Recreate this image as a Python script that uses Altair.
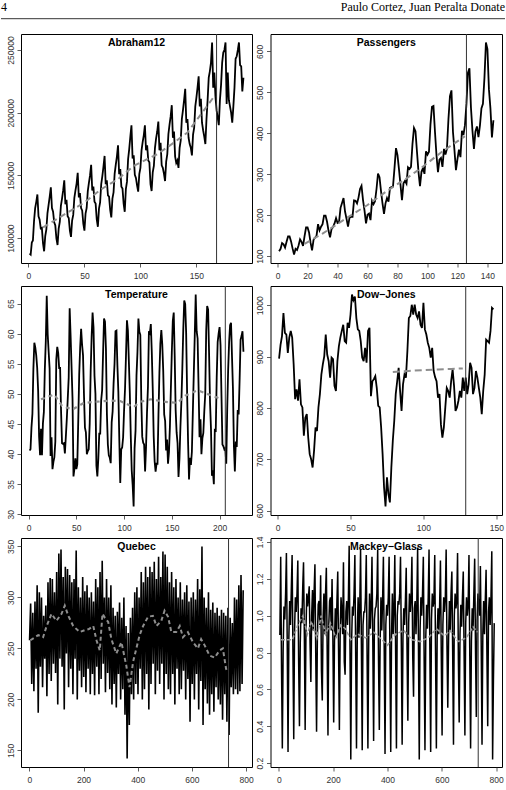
import altair as alt
import pandas as pd

FONT = "Liberation Sans"

# ---------------- Abraham12 (monthly, 192 values) ----------------
abraham = [
    87700, 86900, 96400, 98100, 113600, 123900, 128900, 134800, 117400, 114600, 107700, 108100,
    96000, 89500, 101500, 107000, 120000, 126500, 133000, 140500, 124000, 121000, 112500, 110000,
    99500, 94500, 107500, 113000, 126000, 131500, 138000, 146000, 127000, 130500, 117500, 116000,
    106000, 101000, 114000, 118500, 132000, 138000, 143500, 152000, 132500, 136000, 124000, 122000,
    111500, 106000, 119500, 124000, 137500, 144000, 150000, 158500, 138000, 141000, 129000, 127500,
    115000, 109000, 123500, 128500, 143000, 149500, 157000, 165500, 143000, 146000, 134000, 133000,
    122500, 116500, 131500, 136500, 151500, 158500, 165000, 174000, 151000, 155000, 141000, 139500,
    127500, 121000, 139000, 145000, 163000, 171000, 181000, 190000, 163500, 166000, 150500, 148000,
    142000, 137000, 151000, 156000, 170000, 176500, 182000, 190000, 170000, 174000, 162000, 160500,
    143000, 137500, 152500, 157500, 172000, 179500, 185000, 193000, 170000, 176000, 158000, 156000,
    151500, 145500, 161000, 167000, 183000, 190500, 197000, 206000, 180000, 185000, 165000, 160000,
    162000, 156000, 172000, 178000, 195000, 202000, 210000, 219000, 192000, 195000, 180000, 175000,
    172000, 166000, 182500, 188000, 205000, 212000, 220000, 229000, 205000, 211000, 192000, 186000,
    181000, 175000, 195000, 210000, 228000, 233000, 240000, 256000, 220000, 232000, 213000, 202000,
    196000, 190000, 210000, 222000, 240000, 248000, 250000, 256000, 207000, 232000, 210000, 205000,
    200000, 192000, 205000, 220000, 243000, 245000, 250000, 256000, 238000, 237000, 217000, 228000,
]
abraham_fx = [13, 35, 50, 65, 80, 94, 115, 130, 142, 153, 165]
abraham_fy = [108500, 120400, 128400, 139000, 147000, 157600, 166900, 176200, 184200, 197400, 212000]

# ---------------- Passengers (monthly, 144 values) ----------------
passengers = [
    112, 118, 132, 129, 121, 135, 148, 148, 136, 119, 104, 118,
    115, 126, 141, 135, 125, 149, 170, 170, 158, 133, 114, 140,
    145, 150, 178, 163, 172, 178, 199, 199, 184, 162, 146, 166,
    171, 180, 193, 181, 183, 218, 230, 242, 209, 191, 172, 194,
    196, 196, 236, 235, 229, 243, 264, 272, 237, 211, 180, 201,
    204, 188, 235, 227, 234, 264, 302, 293, 259, 229, 203, 229,
    242, 233, 267, 269, 270, 315, 364, 347, 312, 274, 237, 278,
    284, 277, 317, 313, 318, 374, 413, 405, 355, 306, 271, 306,
    315, 301, 356, 348, 355, 422, 465, 467, 404, 347, 305, 336,
    340, 318, 362, 348, 363, 435, 491, 505, 404, 359, 310, 337,
    360, 342, 406, 396, 420, 472, 548, 559, 463, 407, 362, 405,
    417, 391, 419, 461, 472, 535, 622, 606, 508, 461, 390, 432,
]
pass_fx = [18, 30, 46, 60, 74, 86, 96, 110, 125]
pass_fy = [130, 155, 193, 225, 262, 290, 316, 356, 393]

# ---------------- Temperature (monthly, 225 values) ----------------
temperature = [
    40.6, 40.8, 44.4, 46.7, 54.1, 58.5, 57.7, 56.4, 54.3, 50.5, 42.9, 39.8,
    44.2, 39.8, 45.1, 47.0, 54.1, 58.7, 66.3, 59.9, 57.0, 54.2, 39.7, 42.8,
    37.5, 38.7, 39.5, 42.1, 55.7, 57.8, 56.8, 54.3, 54.3, 47.1, 41.8, 41.7,
    41.8, 40.1, 42.9, 45.8, 49.2, 52.7, 64.2, 59.6, 54.4, 49.2, 36.3, 37.6,
    39.3, 37.5, 38.3, 45.5, 53.2, 57.7, 60.8, 58.2, 56.4, 49.8, 44.4, 43.6,
    40.0, 40.5, 40.8, 45.1, 53.8, 59.4, 63.5, 61.0, 53.0, 50.0, 38.1, 36.3,
    39.2, 43.4, 43.4, 48.9, 50.6, 56.8, 62.5, 62.0, 57.5, 46.7, 41.6, 39.8,
    39.4, 38.5, 45.3, 47.1, 51.7, 55.0, 60.4, 60.5, 54.7, 50.3, 42.3, 35.2,
    40.8, 41.1, 42.8, 47.3, 50.9, 56.4, 62.2, 60.5, 55.4, 50.2, 43.0, 37.3,
    34.8, 31.3, 41.0, 43.9, 53.1, 56.9, 62.5, 60.3, 59.8, 49.2, 42.9, 41.9,
    41.6, 37.1, 41.2, 46.9, 51.2, 60.4, 60.1, 61.6, 57.0, 50.9, 43.0, 38.8,
    37.1, 38.4, 38.4, 46.5, 53.5, 58.4, 60.6, 58.2, 53.8, 46.6, 45.5, 40.6,
    42.4, 38.4, 40.3, 44.6, 50.9, 57.0, 62.1, 63.5, 56.3, 47.3, 43.6, 41.8,
    36.2, 39.3, 44.5, 48.7, 54.2, 60.8, 65.5, 64.9, 60.1, 50.2, 42.1, 35.8,
    39.4, 38.2, 40.4, 46.9, 53.4, 59.6, 66.5, 60.4, 59.2, 51.2, 42.8, 45.8,
    40.0, 42.6, 43.5, 47.1, 50.0, 60.5, 64.6, 64.0, 56.8, 48.6, 44.2, 36.4,
    37.3, 35.0, 44.0, 43.9, 52.7, 58.6, 60.0, 61.1, 58.1, 49.6, 41.6, 41.3,
    40.8, 41.0, 38.4, 47.4, 54.1, 58.6, 61.4, 61.8, 56.3, 50.9, 41.4, 37.1,
    42.1, 41.2, 47.3, 46.6, 52.4, 59.0, 59.6, 60.4, 57.0,
]
temp_fx = [13, 27, 35, 46, 58, 72, 86, 96, 110, 117, 128, 142, 156, 164, 177, 187, 199]
temp_fy = [49.1, 49.9, 48.0, 47.4, 48.5, 48.7, 48.9, 48.8, 47.8, 48.7, 49.1, 48.7, 48.5, 49.7, 50.6, 50.0, 49.3]

# ---------------- Dow-Jones (148 values) ----------------
dowjones = [
    896, 923, 940, 985, 946, 943, 907, 937, 950, 937,
    885, 817, 836, 814, 856, 807, 801, 746, 781, 788,
    742, 710, 700, 684, 717, 762, 755, 801, 827, 865,
    885, 901, 943, 904, 891, 859, 898, 895, 843, 833,
    891, 920, 937, 950, 962, 930, 927, 966, 956, 982,
    1021, 1010, 1017, 975, 953, 950, 930, 898, 891, 917,
    888, 950, 956, 823, 852, 856, 862, 839, 804, 801,
    762, 710, 645, 608, 665, 632, 616, 684, 736, 775,
    827, 852, 878, 833, 794, 846, 865, 859, 911, 975,
    979, 1001, 982, 1001, 982, 975, 988, 962, 956, 1005,
    953, 943, 927, 917, 898, 917, 872, 860, 852, 820,
    827, 768, 742, 762, 801, 839, 833, 820, 852, 875,
    843, 794, 801, 814, 833, 820, 859, 833, 859, 827,
    846, 888, 878, 827, 839, 872, 859, 839, 820, 788,
    833, 865, 933, 930, 927, 950, 995, 992,
]
dj_fx = [79, 90, 101, 110, 119, 127]
dj_fy = [870, 872, 874, 875, 876, 877]

# ---------------- Quebec (every 4th day) ----------------
quebec = [
    258, 294, 215, 285, 208, 296, 230, 312, 187, 305,
    232, 300, 212, 282, 240, 292, 203, 315, 225, 319,
    218, 318, 235, 305, 226, 325, 195, 343, 240, 347,
    232, 320, 190, 330, 245, 328, 212, 322, 230, 315,
    205, 318, 240, 346, 200, 310, 228, 300, 212, 320,
    222, 306, 207, 312, 230, 300, 205, 305, 225, 296,
    204, 318, 232, 310, 205, 325, 220, 336, 235, 300,
    207, 318, 226, 300, 210, 312, 195, 290, 215, 282,
    192, 286, 225, 295, 200, 280, 210, 300, 185, 272,
    142, 265, 175, 280, 205, 290, 200, 305, 215, 310,
    205, 300, 230, 325, 200, 315, 210, 330, 225, 320,
    190, 330, 215, 325, 235, 335, 205, 318, 228, 340,
    215, 320, 235, 345, 200, 342, 225, 330, 210, 315,
    205, 325, 225, 310, 195, 318, 230, 300, 205, 315,
    210, 298, 228, 305, 200, 312, 220, 296, 178, 300,
    215, 305, 200, 298, 225, 318, 190, 308, 218, 350,
    175, 300, 210, 290, 196, 305, 185, 288, 205, 295,
    188, 285, 212, 290, 200, 282, 195, 288, 180, 285,
    205, 282, 178, 290, 165, 280, 212, 275, 205, 300,
    210, 298, 205, 312, 208, 322, 215, 307,
]
quebec_x = list(range(1, 4 * len(quebec), 4))
quebec_fx = [4, 33, 51, 64, 82, 100, 119, 131, 144, 162, 186, 205, 220, 236, 248, 260, 270, 279, 291, 303,
             321, 340, 358, 364, 370, 383, 395, 407, 420, 438, 456, 469, 487, 499, 512, 524, 542, 555, 567, 585,
             604, 622, 634, 647, 665, 684, 702, 714, 726, 732]
quebec_fy = [258, 263, 261, 272, 284, 277, 284, 292, 282, 272, 266, 268, 269, 272, 258, 248, 284, 280, 276, 259,
             245, 256, 233, 222, 212, 237, 250, 263, 272, 281, 282, 272, 277, 287, 281, 266, 266, 272, 261, 266,
             256, 250, 259, 253, 243, 241, 248, 250, 230, 227]

# ---------------- Mackey-Glass (every 3rd step) ----------------
mackey = [
    0.90, 0.90, 1.32, 0.72, 0.28, 0.82, 1.05,   0.98, 1.12, 1.34, 0.85, 0.26, 0.88, 1.08,
    0.95, 1.14, 1.33, 0.80, 0.33, 0.92, 1.10,   1.02, 1.12, 1.30, 0.75, 0.40, 0.85, 1.04,
    0.96, 1.15, 1.29, 0.90, 0.38, 0.92, 1.12,   1.05, 1.10, 1.16, 0.85, 0.64, 1.00, 1.14,
    0.92, 1.13, 1.28, 0.78, 0.37, 0.88, 1.06,   1.08, 0.95, 1.22, 0.70, 0.54, 0.98, 1.12,
    0.90, 1.12, 1.26, 0.82, 0.35, 0.95, 1.08,   1.10, 0.92, 1.20, 0.88, 0.42, 0.86, 1.04,
    0.88, 1.08, 1.24, 0.80, 0.38, 0.92, 1.10,   1.02, 0.90, 1.29, 0.75, 0.68, 1.02, 1.08,
    0.95, 1.08, 1.38, 0.82, 0.22, 0.86, 1.05,   1.00, 1.12, 1.33, 0.78, 0.28, 0.92, 1.10,
    0.88, 1.05, 1.36, 0.84, 0.27, 0.95, 1.02,   1.02, 1.10, 1.33, 0.78, 0.28, 0.88, 1.12,
    0.93, 1.06, 1.32, 0.86, 0.32, 0.98, 1.04,   1.05, 1.12, 1.36, 0.76, 0.38, 0.86, 1.10,
    0.92, 1.08, 1.32, 0.82, 0.25, 0.95, 1.06,   1.00, 1.10, 1.32, 0.80, 0.26, 0.90, 1.12,
    0.90, 1.04, 1.33, 0.80, 0.28, 1.00, 1.08,   1.06, 1.12, 1.32, 0.85, 0.30, 0.88, 1.04,
    0.95, 1.08, 1.26, 0.82, 0.43, 0.96, 1.12,   1.02, 1.10, 1.32, 0.78, 0.56, 1.04, 1.08,
    0.90, 1.06, 1.37, 0.84, 0.22, 0.92, 1.10,   1.00, 1.12, 1.32, 0.76, 0.27, 0.88, 1.06,
    0.93, 1.10, 1.36, 0.82, 0.26, 0.98, 1.12,   1.05, 1.08, 1.33, 0.78, 0.28, 0.90, 1.04,
    0.90, 1.06, 1.30, 0.80, 0.35, 0.95, 1.10,   1.02, 1.10, 1.36, 0.84, 0.50, 0.88, 1.08,
    0.92, 1.12, 1.24, 0.80, 0.30, 1.00, 1.12,   1.04, 1.08, 1.34, 0.76, 0.42, 0.90, 1.06,
    0.94, 1.10, 1.24, 0.80, 0.35, 0.96, 1.10,   1.00, 1.06, 1.33, 0.78, 0.28, 0.86, 1.04,
    0.92, 1.12, 1.31, 0.82, 0.45, 0.98, 1.12,   1.05, 1.00, 1.27, 0.85, 0.30, 0.90, 1.08,
    0.90, 1.08, 1.25, 0.80, 0.40, 1.02, 1.10,   0.95, 1.10, 1.35, 0.22, 0.65, 0.96,
]
mackey_x = list(range(1, 3 * len(mackey), 3))
mackey_fx = [8, 50, 70, 89, 105, 120, 140, 156, 172, 190, 210, 228, 245, 265, 290, 320, 350, 380, 400, 430,
             460, 490, 520, 550, 580, 610, 630, 660, 690, 715, 732]
mackey_fy = [0.87, 0.87, 0.95, 1.00, 0.90, 0.97, 0.88, 1.00, 0.90, 0.96, 0.88, 0.95, 0.93, 0.87, 0.90, 0.88,
             0.91, 0.87, 0.84, 0.90, 0.92, 0.87, 0.86, 0.88, 0.93, 0.89, 0.92, 0.86, 0.88, 0.94, 0.91]

W1, W2, H = 231, 231.5, 229


def panel(title, xs, ys, fx, fy, vline, xdom, ydom, xticks, yticks, yfmt, dash, width, lw=1.8,
          fcolor="#8e8e8e", fwidth=2):
    X = alt.X("x:Q", title=None,
              scale=alt.Scale(domain=xdom, nice=False, zero=False),
              axis=alt.Axis(values=xticks, grid=False, domain=False, tickSize=4, tickColor="#333",
                            tickWidth=0.8, labelFont=FONT, labelFontSize=8.5, labelColor="#333",
                            labelPadding=4, labelAngle=0, format="d"))
    Y = alt.Y("y:Q", title=None,
              scale=alt.Scale(domain=ydom, nice=False, zero=False),
              axis=alt.Axis(values=yticks, grid=False, domain=False, tickSize=4, tickColor="#333",
                            tickWidth=0.8, labelFont=FONT, labelFontSize=8.5, labelColor="#333",
                            labelPadding=2, labelAngle=270, labelAlign="center",
                            labelBaseline="bottom", format=yfmt))
    line = alt.Chart(pd.DataFrame({"x": xs, "y": ys})).mark_line(
        color="black", strokeWidth=lw).encode(x=X, y=Y)
    trend = alt.Chart(pd.DataFrame({"x": fx, "y": fy})).mark_line(
        color=fcolor, strokeWidth=fwidth, strokeDash=dash).encode(x=X, y=Y)
    rule = alt.Chart(pd.DataFrame({"x": [vline]})).mark_rule(
        color="#333", strokeWidth=1).encode(x=X)
    ttl = alt.Chart(pd.DataFrame({"t": [title]})).mark_text(
        font=FONT, fontSize=10.5, fontWeight="bold", align="center", baseline="middle",
        color="black").encode(text="t:N", x=alt.value(width / 2), y=alt.value(9))
    return alt.layer(line, trend, rule, ttl).properties(
        width=width, height=H, view=alt.ViewBackground(stroke="black", strokeWidth=1))


p1 = panel("Abraham12", list(range(1, len(abraham) + 1)), abraham, abraham_fx, abraham_fy, 168,
           [-6.64, 199.64], [80136, 262764], [0, 50, 100, 150],
           [100000, 150000, 200000, 250000], "d", [6, 4], W1)
p2 = panel("Passengers", list(range(1, len(passengers) + 1)), passengers, pass_fx, pass_fy, 126,
           [-4.72, 149.72], [83.3, 642.7], [0, 20, 40, 60, 80, 100, 120, 140],
           [100, 200, 300, 400, 500, 600], "d", [6, 4], W2)
p3 = panel("Temperature", list(range(1, len(temperature) + 1)), temperature, temp_fx, temp_fy, 206,
           [-7.96, 233.96], [29.89, 67.91], [0, 50, 100, 150, 200],
           [30, 35, 40, 45, 50, 55, 60, 65], "d", [4, 4], W1, fcolor="#909090", fwidth=2.2)
p4 = panel("Dow\u2212Jones", list(range(1, len(dowjones) + 1)), dowjones, dj_fx, dj_fy, 129,
           [-4.88, 153.88], [591.5, 1037.5], [0, 50, 100, 150],
           [600, 700, 800, 900, 1000], "d", [7, 4], W2)
p5 = panel("Quebec", quebec_x, quebec, quebec_fx, quebec_fy, 735,
           [-30.56, 821.56], [133.7, 358.3], [0, 200, 400, 600, 800],
           [150, 200, 250, 300, 350], "d", [4, 3], W1, lw=1.6)
p6 = panel("Mackey\u2212Glass", mackey_x, mackey, mackey_fx, mackey_fy, 734,
           [-30.56, 821.56], [0.179, 1.422], [0, 200, 400, 600, 800],
           [0.2, 0.4, 0.6, 0.8, 1.0, 1.2, 1.4], ".1f", [4, 2], W2, lw=1.5,
           fcolor="#9a9a9a", fwidth=1.6)

# ---------------- page header ----------------
h_left = alt.Chart(pd.DataFrame({"t": ["4"]})).mark_text(
    font="Liberation Serif", fontSize=12, align="left", baseline="alphabetic", color="black"
).encode(text="t:N", x=alt.value(-20), y=alt.value(10))
h_right = alt.Chart(pd.DataFrame({"t": ["Paulo Cortez, Juan Peralta Donate"]})).mark_text(
    font="Liberation Serif", fontSize=12, align="right", baseline="alphabetic", color="black"
).encode(text="t:N", x=alt.value(484), y=alt.value(10))
h_rule = alt.Chart(pd.DataFrame({"a": [0]})).mark_rule(color="black", strokeWidth=0.8).encode(
    x=alt.value(-20), x2=alt.value(484), y=alt.value(17.7))
header = alt.layer(h_left, h_right, h_rule).properties(
    width=481, height=33, view=alt.ViewBackground(stroke="transparent"))

grid = alt.concat(p1, p2, p3, p4, p5, p6, columns=2,
                  spacing={"row": 23, "column": 18.5}, bounds="flush")

chart = alt.vconcat(header, grid, spacing=0, bounds="flush").properties(
    padding=0, background="white")

chart.save("out.html", embed_options={"renderer": "svg", "actions": False})
